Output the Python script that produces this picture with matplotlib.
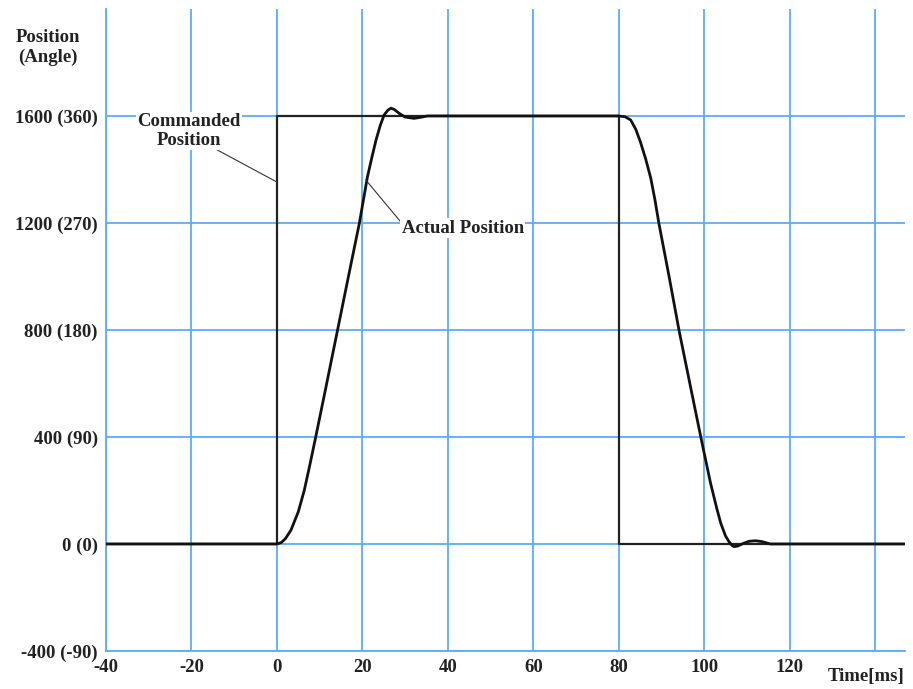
import matplotlib
matplotlib.use('Agg')
import matplotlib.pyplot as plt

# commanded position (step profile)
cmd_t = [-40, 0, 0, 80, 80, 147]
cmd_pos = [0, 0, 1600, 1600, 0, 0]

# actual position
act_t = [-40, 0, 1, 2, 3.3, 5, 6.4, 7.5, 8.3, 9.1, 11.5, 14.2, 16.9, 19.3, 21.2, 22.3,
         23.2, 24.2, 25.1, 26, 26.7, 27.5, 28.6, 30, 32.1, 34, 35.2,
         80, 81.5, 82.8, 84, 85.1, 86.3, 87.5, 88.5, 89.4, 91.8, 94.1, 96.8, 99.2, 101.5,
         103, 103.9, 105, 105.8, 106.5, 107, 107.8, 109.3, 110.5, 112, 113.5,
         114.4, 115.5, 147]
act_pos = [0, 0, 5, 20, 52, 120, 200, 280, 340, 401, 588, 800, 1012, 1199, 1373, 1450,
           1510, 1565, 1604, 1622, 1629, 1624, 1610, 1596, 1591, 1596, 1600,
           1600, 1597, 1585, 1550, 1502, 1440, 1368, 1285, 1199, 999, 800, 588, 401, 227,
           130, 77, 30, 9, -5, -10, -8, 3, 10, 12, 9,
           5, 0, 0]

xticks = [-40, -20, 0, 20, 40, 60, 80, 100, 120, 140]
xtick_labels = ['-40', '-20', '0', '20', '40', '60', '80', '100', '120', '']
yticks = [-400, 0, 400, 800, 1200, 1600]
ytick_labels = ['-400 (-90)', '0 (0)', '400 (90)', '800 (180)', '1200 (270)', '1600 (360)']

font = 'Liberation Serif'
fsize = 13.5
grid_color = '#5aabff'

fig = plt.figure(figsize=(9.13, 6.89), dpi=100)
ax = fig.add_axes([0.1161, 0.0552, 0.8751, 0.9318])

ax.set_xlim(-40, 147)
ax.set_ylim(-400, 2000)
ax.set_xticks(xticks)
ax.set_xticklabels(xtick_labels, fontfamily=font, fontsize=fsize, fontweight='bold')
ax.set_yticks(yticks)
ax.set_yticklabels(ytick_labels, fontfamily=font, fontsize=fsize, fontweight='bold')
ax.tick_params(length=0, pad=6, colors='#222222')
ax.grid(True, color=grid_color, linewidth=1.3)
ax.set_axisbelow(True)
for s in ['top', 'right']:
    ax.spines[s].set_visible(False)
for s in ['left', 'bottom']:
    ax.spines[s].set_color(grid_color)
    ax.spines[s].set_linewidth(1.3)

ax.plot(cmd_t, cmd_pos, color='#222222', linewidth=1.6, zorder=3)
ax.plot(act_t, act_pos, color='#111111', linewidth=2.0, zorder=4)

txt = dict(fontfamily=font, fontsize=fsize, fontweight='bold', color='#222222')
box = dict(facecolor='white', edgecolor='none', pad=1)

ax.annotate('Commanded\nPosition', xy=(0, 1353), xytext=(-20.6, 1544),
            ha='center', va='center', linespacing=1.1, bbox=box,
            arrowprops=dict(arrowstyle='-', color='#333333', lw=0.8,
                            shrinkA=0, shrinkB=0, relpos=(0.75, 0.0)),
            zorder=5, **txt)
ax.annotate('Actual Position', xy=(20.8, 1361), xytext=(43.5, 1181),
            ha='center', va='center', bbox=box,
            arrowprops=dict(arrowstyle='-', color='#333333', lw=0.8,
                            shrinkA=0, shrinkB=0, relpos=(0.0, 0.8)),
            zorder=5, **txt)

fig.text(48 / 913, 1 - 37 / 689, 'Position', ha='center', va='center', **txt)
fig.text(48 / 913, 1 - 57 / 689, '(Angle)', ha='center', va='center', **txt)
fig.text(866 / 913, 1 - 677 / 689, 'Time[ms]', ha='center', va='center', **txt)

fig.savefig('out.png', dpi=100)
